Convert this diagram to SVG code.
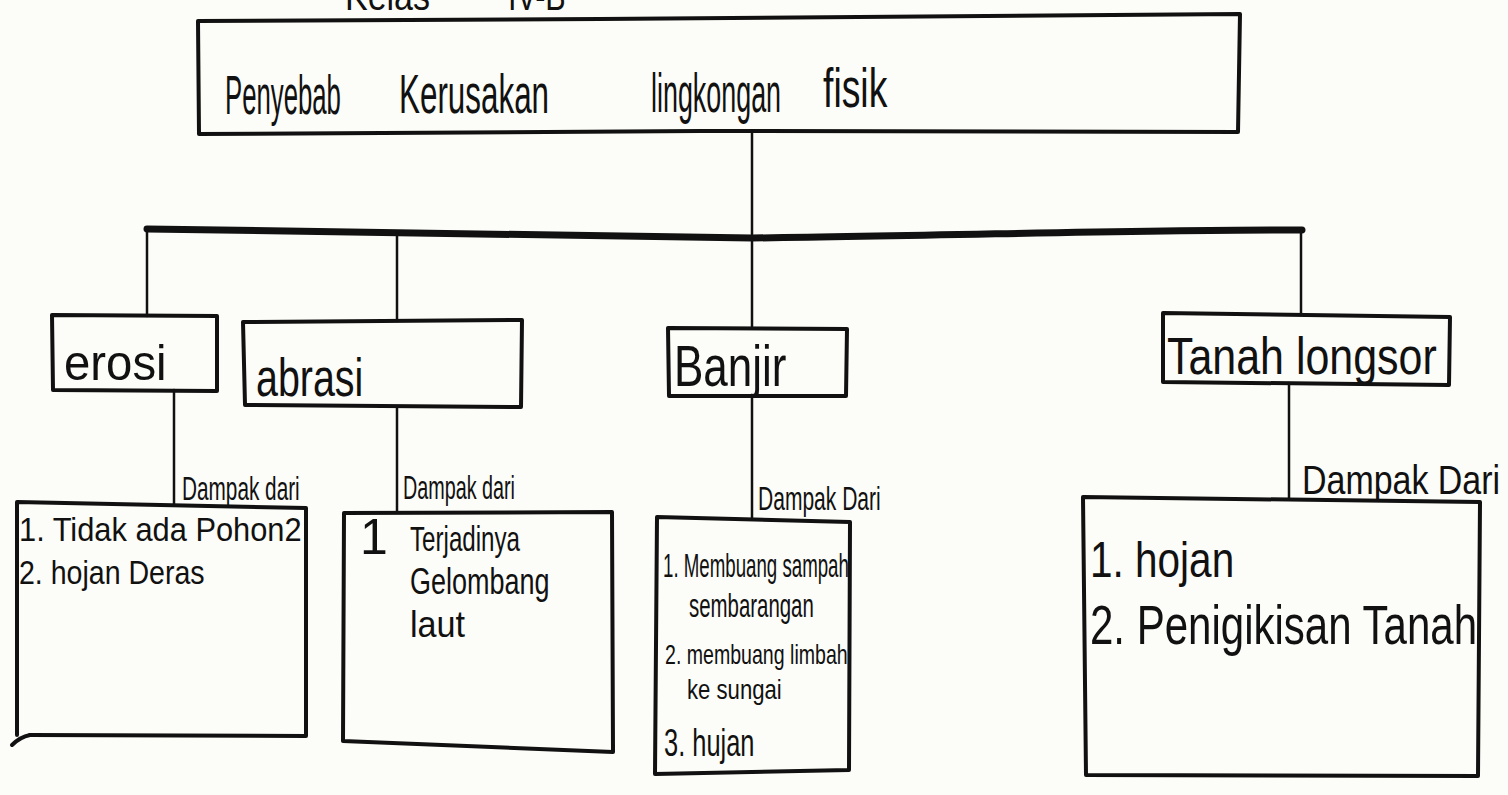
<svg xmlns="http://www.w3.org/2000/svg" width="1508" height="795" viewBox="0 0 1508 795">
  <style>
    .ink { fill: none; stroke: #111; stroke-linecap: round; stroke-linejoin: round; }
    .box { stroke-width: 4; }
    .thin { stroke-width: 2.5; }
    .bus { stroke-width: 7; }
    .hw { font-family: "Liberation Sans", "DejaVu Sans", sans-serif; fill: #111; }
    .title { font-size: 56px; }
    .lbl { font-size: 34px; }
  </style>

  <rect x="0" y="0" width="1508" height="795" fill="#fcfcf8"/>

  <!-- heading line, cut by the top edge -->
  <text class="hw" font-size="40" transform="translate(345,10) scale(0.85,1)" textLength="100" lengthAdjust="spacingAndGlyphs">Kelas</text>
  <text class="hw" font-size="40" transform="translate(508,10) scale(0.74,1)" textLength="78" lengthAdjust="spacingAndGlyphs">IV-B</text>

  <!-- root node -->
  <g id="root">
    <path class="ink box" d="M198,21 L600,19 L1240,14 L1238,132 L700,131 L199,134 Z"/>
    <text class="hw title" transform="translate(225,114) scale(0.46,1)" textLength="252" lengthAdjust="spacingAndGlyphs">Penyebab</text>
    <text class="hw title" transform="translate(399,113) scale(0.56,1)" textLength="268" lengthAdjust="spacingAndGlyphs">Kerusakan</text>
    <text class="hw title" transform="translate(651,112) scale(0.48,1)" textLength="271" lengthAdjust="spacingAndGlyphs">lingkongan</text>
    <text class="hw title" transform="translate(823,107) scale(0.67,1)" textLength="96" lengthAdjust="spacingAndGlyphs">fisik</text>
  </g>

  <!-- connectors -->
  <g id="connectors">
    <path class="ink thin" d="M752,132 L752,238"/>
    <path class="ink bus" d="M147,229 C300,231 500,236 752,238 C950,236 1150,229 1302,230"/>
    <path class="ink thin" d="M147,230 L147,316"/>
    <path class="ink thin" d="M397,233 L397,321"/>
    <path class="ink thin" d="M752,238 L752,328"/>
    <path class="ink thin" d="M1301,230 L1301,313"/>
    <!-- links to the cause boxes -->
    <path class="ink thin" d="M174,390 L174,505"/>
    <path class="ink thin" d="M397,407 L397,512"/>
    <path class="ink thin" d="M752,395 L752,518"/>
    <path class="ink thin" d="M1289,383 L1289,499"/>
    <text class="hw lbl" transform="translate(182,500) scale(0.61,1)" textLength="193" lengthAdjust="spacingAndGlyphs">Dampak dari</text>
    <text class="hw lbl" transform="translate(403,499) scale(0.58,1)" textLength="193" lengthAdjust="spacingAndGlyphs">Dampak dari</text>
    <text class="hw lbl" transform="translate(758,510) scale(0.62,1)" textLength="198" lengthAdjust="spacingAndGlyphs">Dampak Dari</text>
    <text class="hw" font-size="40" transform="translate(1302,494) scale(0.85,1)" textLength="233" lengthAdjust="spacingAndGlyphs">Dampak Dari</text>
  </g>

  <!-- erosi -->
  <g id="erosi">
    <path class="ink box" d="M52,315 L217,316 L217,391 L53,390 Z"/>
    <text class="hw" font-size="50" transform="translate(64,380) scale(0.95,1)" textLength="108" lengthAdjust="spacingAndGlyphs">erosi</text>
  </g>
  <g id="erosi-cause">
    <path class="ink box" d="M17,502 L306,508 L306,736 L30,735 M17,502 L17,735"/>
    <path class="ink box" d="M30,735 Q20,737 12,745"/>
    <text class="hw" font-size="34" transform="translate(19,541) scale(0.9,1)" textLength="314" lengthAdjust="spacingAndGlyphs">1. Tidak ada Pohon2</text>
    <text class="hw" font-size="34" transform="translate(19,584) scale(0.84,1)" textLength="221" lengthAdjust="spacingAndGlyphs">2. hojan Deras</text>
  </g>

  <!-- abrasi -->
  <g id="abrasi">
    <path class="ink box" d="M243,322 L522,320 L521,407 L245,405 Z"/>
    <text class="hw" font-size="54" transform="translate(256,396) scale(0.73,1)" textLength="147" lengthAdjust="spacingAndGlyphs">abrasi</text>
  </g>
  <g id="abrasi-cause">
    <path class="ink box" d="M344,513 L612,512 L613,752 L343,741 Z"/>
    <text class="hw" font-size="50" x="360" y="554">1</text>
    <text class="hw" font-size="36" transform="translate(410,551) scale(0.655,1)" textLength="168" lengthAdjust="spacingAndGlyphs">Terjadinya</text>
    <text class="hw" font-size="36" transform="translate(410,594) scale(0.75,1)" textLength="186" lengthAdjust="spacingAndGlyphs">Gelombang</text>
    <text class="hw" font-size="36" transform="translate(410,637) scale(0.95,1)" textLength="58" lengthAdjust="spacingAndGlyphs">laut</text>
  </g>

  <!-- banjir -->
  <g id="banjir">
    <path class="ink box" d="M668,328 L847,329 L846,396 L669,396 Z"/>
    <text class="hw" font-size="58" transform="translate(674,386) scale(0.76,1)" textLength="148" lengthAdjust="spacingAndGlyphs">Banjir</text>
  </g>
  <g id="banjir-cause">
    <path class="ink box" d="M657,517 L850,522 L849,770 L655,774 Z"/>
    <text class="hw" font-size="34" transform="translate(663,577) scale(0.55,1)" textLength="338" lengthAdjust="spacingAndGlyphs">1. Membuang sampah</text>
    <text class="hw" font-size="34" transform="translate(689,617) scale(0.6,1)" textLength="208" lengthAdjust="spacingAndGlyphs">sembarangan</text>
    <text class="hw" font-size="28" transform="translate(665,664) scale(0.7,1)" textLength="261" lengthAdjust="spacingAndGlyphs">2. membuang limbah</text>
    <text class="hw" font-size="28" transform="translate(687,699) scale(0.79,1)" textLength="120" lengthAdjust="spacingAndGlyphs">ke sungai</text>
    <text class="hw" font-size="38" transform="translate(664,756) scale(0.67,1)" textLength="135" lengthAdjust="spacingAndGlyphs">3. hujan</text>
  </g>

  <!-- tanah longsor -->
  <g id="tanah-longsor">
    <path class="ink box" d="M1163,313 L1450,317 L1449,385 L1163,382 Z"/>
    <text class="hw" font-size="52" transform="translate(1167,374) scale(0.81,1)" textLength="333" lengthAdjust="spacingAndGlyphs">Tanah longsor</text>
  </g>
  <g id="tanah-longsor-cause">
    <path class="ink box" d="M1083,497 L1480,502 L1478,776 L1086,775 Z"/>
    <text class="hw" font-size="50" transform="translate(1090,577) scale(0.81,1)" textLength="178" lengthAdjust="spacingAndGlyphs">1. hojan</text>
    <text class="hw" font-size="56" transform="translate(1090,644) scale(0.74,1)" textLength="523" lengthAdjust="spacingAndGlyphs">2. Penigikisan Tanah</text>
  </g>
</svg>
